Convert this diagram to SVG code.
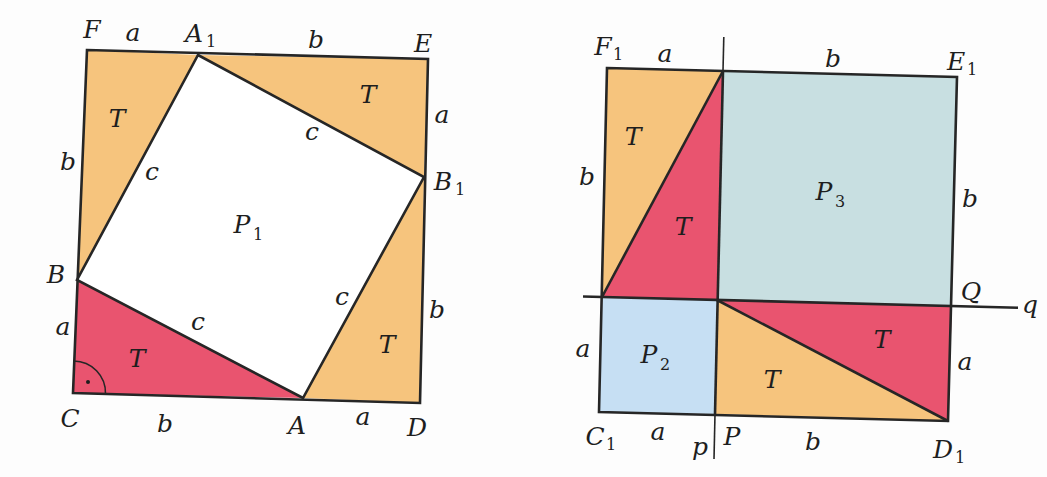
<svg xmlns="http://www.w3.org/2000/svg" width="1047" height="477" viewBox="0 0 1047 477">
<style>
.o{fill:#f6c47d}
.r{fill:#e9546f}
.b3{fill:#c8dfe1}
.b2{fill:#c6dff3}
.w{fill:#ffffff}
.ln{fill:none;stroke:#262626;stroke-width:2.6;stroke-linejoin:miter}
.thin{fill:none;stroke:#262626;stroke-width:1.6}
.lbl{font-family:"DejaVu Serif", serif}
.lbl text{font-style:italic;font-size:25px;fill:#1e1e1e;text-anchor:middle}
.lbl text.s{font-style:normal;font-size:16px;text-anchor:start}
</style>
<rect width="1047" height="477" fill="#fdfdfd"/>
<g id="left-figure">
<polygon class="o" points="87,50 198,55 77,280"/>
<polygon class="o" points="198,55 428,59 424,177"/>
<polygon class="o" points="424,177 420,403 303,398"/>
<polygon class="r" points="77,280 73,393 303,398"/>
<polygon class="w" points="198,55 424,177 303,398 77,280"/>
<polygon class="ln" points="87,50 428,59 420,403 73,393"/>
<polygon class="ln" points="198,55 424,177 303,398 77,280"/>
<path class="thin" d="M73.7,361 A32,32 0 0 1 105.5,394"/>
<circle cx="88" cy="382" r="2" fill="#1e1e1e"/>
</g>
<g id="left-labels" class="lbl">
<text x="92" y="38">F</text>
<text x="133" y="41">a</text>
<text x="194" y="42">A</text><text class="s" x="206" y="47">1</text>
<text x="316" y="48">b</text>
<text x="423" y="52">E</text>
<text x="117" y="127">T</text>
<text x="368" y="103">T</text>
<text x="442" y="123">a</text>
<text x="312" y="140">c</text>
<text x="68" y="170">b</text>
<text x="152" y="180">c</text>
<text x="443" y="190">B</text><text class="s" x="455" y="195">1</text>
<text x="242" y="233">P</text><text class="s" x="253" y="240">1</text>
<text x="56" y="283">B</text>
<text x="342" y="305">c</text>
<text x="437" y="318">b</text>
<text x="63" y="335">a</text>
<text x="198" y="330">c</text>
<text x="137" y="367">T</text>
<text x="387" y="353">T</text>
<text x="70" y="427">C</text>
<text x="165" y="432">b</text>
<text x="297" y="434">A</text>
<text x="363" y="425">a</text>
<text x="417" y="436">D</text>
</g>
<g id="right-figure">
<polygon class="o" points="607,68 723,71 602,297"/>
<polygon class="r" points="723,71 717,300 602,297"/>
<polygon class="b3" points="723,71 957,77 952,306 717,300"/>
<polygon class="b2" points="602,297 717,300 715,414 599,412"/>
<polygon class="r" points="717,300 952,306 948,421"/>
<polygon class="o" points="717,300 948,421 715,414"/>
<polygon class="ln" points="607,68 957,77 948,421 599,412"/>
<line class="ln" x1="723" y1="71" x2="715" y2="414"/>
<line class="thin" x1="723.8" y1="37" x2="723" y2="71"/>
<line class="thin" x1="715" y1="414" x2="714" y2="459"/>
<line class="ln" x1="583" y1="296.5" x2="1018" y2="307.7"/>
<line class="ln" x1="723" y1="71" x2="602" y2="297"/>
<line class="ln" x1="717" y1="300" x2="948" y2="421"/>
</g>
<g id="right-labels" class="lbl">
<text x="603" y="55">F</text><text class="s" x="613" y="60">1</text>
<text x="665" y="62">a</text>
<text x="833" y="67">b</text>
<text x="956" y="70">E</text><text class="s" x="967" y="75">1</text>
<text x="633" y="145">T</text>
<text x="587" y="185">b</text>
<text x="824" y="200">P</text><text class="s" x="835" y="207">3</text>
<text x="970" y="207">b</text>
<text x="683" y="235">T</text>
<text x="971" y="300">Q</text>
<text x="1030" y="313">q</text>
<text x="882" y="348">T</text>
<text x="583" y="357">a</text>
<text x="649" y="363">P</text><text class="s" x="660" y="370">2</text>
<text x="965" y="370">a</text>
<text x="772" y="388">T</text>
<text x="595" y="445">C</text><text class="s" x="606" y="450">1</text>
<text x="658" y="440">a</text>
<text x="732" y="445">P</text>
<text x="700" y="455">p</text>
<text x="813" y="450">b</text>
<text x="943" y="458">D</text><text class="s" x="955" y="463">1</text>
</g>
</svg>
